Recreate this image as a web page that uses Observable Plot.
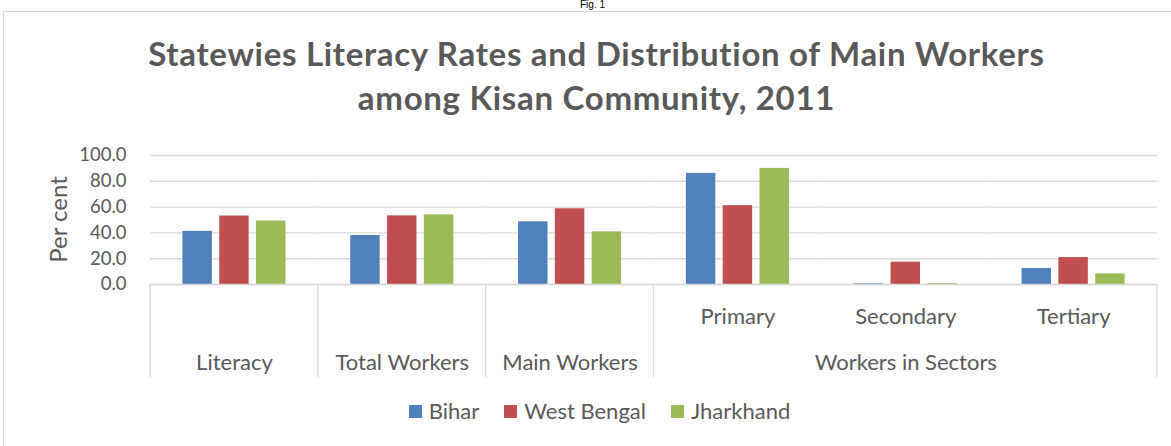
<!DOCTYPE html>
<html>
<head>
<meta charset="utf-8">
<script src="https://cdn.jsdelivr.net/npm/d3@7"></script>
<script src="https://cdn.jsdelivr.net/npm/@observablehq/plot@0.6"></script>
<style>
  html, body { margin: 0; padding: 0; background: #fff; }
  #wrap { position: relative; width: 1171px; height: 446px; overflow: hidden; font-family: Lato, "Open Sans", sans-serif; color: #595959; }
  #fig { position: absolute; top: 0px; left: 0; width: 1171px; text-align: center; padding-left: 14px; box-sizing: border-box; font: 10px/10px "Liberation Sans", Arial, sans-serif; color: #000; }
  #box { position: absolute; left: 3px; top: 11px; width: 1180px; height: 440px; border: 1px solid #D9D9D9; box-sizing: border-box; }
  #title { position: absolute; top: 31px; left: 0; width: 1171px; padding-left: 22px; box-sizing: border-box; text-align: center; font-weight: 700; font-size: 33px; letter-spacing: 0.7px; line-height: 44px; color: #595959; }
  #chart { position: absolute; left: 0; top: 140px; }
  #legend { position: absolute; top: 398px; left: 0; width: 1171px; padding-left: 28px; box-sizing: border-box; display: flex; justify-content: center; gap: 25px; font-size: 22px; line-height: 26px; color: #595959; }
  #legend .item { display: flex; align-items: center; gap: 7px; }
  #legend .sw { width: 13px; height: 13px; display: inline-block; }
</style>
</head>
<body>
<div id="wrap">
  <div id="fig">Fig. 1</div>
  <div id="box"></div>
  <div id="title">Statewies Literacy Rates and Distribution of Main Workers<br>among Kisan Community, 2011</div>
  <div id="chart"></div>
  <div id="legend"></div>
</div>
<script>
// ---- data ----
const categories = ["Literacy", "Total Workers", "Main Workers", "Primary", "Secondary", "Tertiary"];
const parents = ["Literacy", "Total Workers", "Main Workers", "Workers in Sectors", "Workers in Sectors", "Workers in Sectors"];
const states = ["Bihar", "West Bengal", "Jharkhand"];
const bihar = [41.2, 38.0, 48.6, 86.1, 0.5, 12.4];
const westBengal = [53.1, 53.2, 58.7, 61.1, 17.3, 20.9];
const jharkhand = [49.2, 54.0, 40.8, 90.0, 0.7, 8.2];
const yTicks = [0, 20, 40, 60, 80, 100];
const colors = ["#4F81BD", "#C0504D", "#9BBB59"];

const seriesValues = [bihar, westBengal, jharkhand];
const rows = [];
states.forEach((s, si) => categories.forEach((c, ci) => rows.push({state: s, category: c, value: seriesValues[si][ci]})));

// sub labels (level 1) and parent labels (level 2, centred on each run)
const subLabels = categories.map((c, i) => ({category: c, label: parents[i] !== c ? c : ""}));
const runs = [];
parents.forEach((p, i) => {
  if (runs.length && runs[runs.length - 1].parent === p) runs[runs.length - 1].end = i;
  else runs.push({parent: p, start: i, end: i});
});
const parentLabels = runs.map(r => ({category: categories[Math.floor((r.start + r.end) / 2)], label: r.parent}));

const width = 1171, height = 240;
const chart = Plot.plot({
  width, height,
  marginLeft: 150, marginRight: 14, marginTop: 15, marginBottom: 96,
  style: {fontFamily: "Lato, 'Open Sans', sans-serif", color: "#595959", background: "transparent"},
  fx: {domain: categories, padding: 0, round: false, axis: null, label: null},
  x: {domain: states, paddingInner: 0.2, paddingOuter: 0.88, round: false, axis: null},
  y: {domain: [0, 100], axis: null},
  color: {domain: states, range: colors},
  marks: [
    Plot.gridY(yTicks, {stroke: "#D9D9D9", strokeOpacity: 1, strokeWidth: 1.4}),
    Plot.barY(rows, {fx: "category", x: "state", y: "value", fill: "state"}),
    Plot.ruleY([0], {stroke: "#D9D9D9", strokeWidth: 1.4}),
    Plot.axisY(yTicks, {tickFormat: d3.format(".1f"), tickSize: 0, tickPadding: 24, fontSize: 18.5, fill: "#595959", label: null}),
    Plot.text(subLabels, {fx: "category", text: "label", frameAnchor: "bottom", dy: 32, lineAnchor: "middle", fontSize: 22, fill: "#595959"}),
    Plot.text(parentLabels, {fx: "category", text: "label", frameAnchor: "bottom", dy: 78, lineAnchor: "middle", fontSize: 22, fill: "#595959"})
  ]
});

// separators of the multi-level category axis, placed through the fx and y scales
const fx = chart.scale("fx");
const y = chart.scale("y");
const svg = d3.select(chart);
const y0 = y.apply(0);
const bounds = runs.map(r => fx.apply(categories[r.start]));
bounds.push(fx.apply(categories[categories.length - 1]) + fx.bandwidth);
svg.append("g").selectAll("line").data(bounds).join("line")
  .attr("x1", d => d).attr("x2", d => d)
  .attr("y1", y0).attr("y2", y0 + 93)
  .attr("stroke", "#D9D9D9").attr("stroke-width", 1.4);
// y axis title
svg.append("text")
  .attr("transform", `translate(61,${(y.apply(0) + y.apply(100)) / 2}) rotate(-90)`)
  .attr("text-anchor", "middle").attr("dominant-baseline", "middle")
  .attr("font-size", 24).attr("fill", "#595959")
  .text("Per cent");

document.getElementById("chart").appendChild(chart);

// legend
const legend = d3.select("#legend");
states.forEach((s, i) => {
  const it = legend.append("div").attr("class", "item");
  it.append("span").attr("class", "sw").style("background", colors[i]);
  it.append("span").text(s);
});
</script>
</body>
</html>
